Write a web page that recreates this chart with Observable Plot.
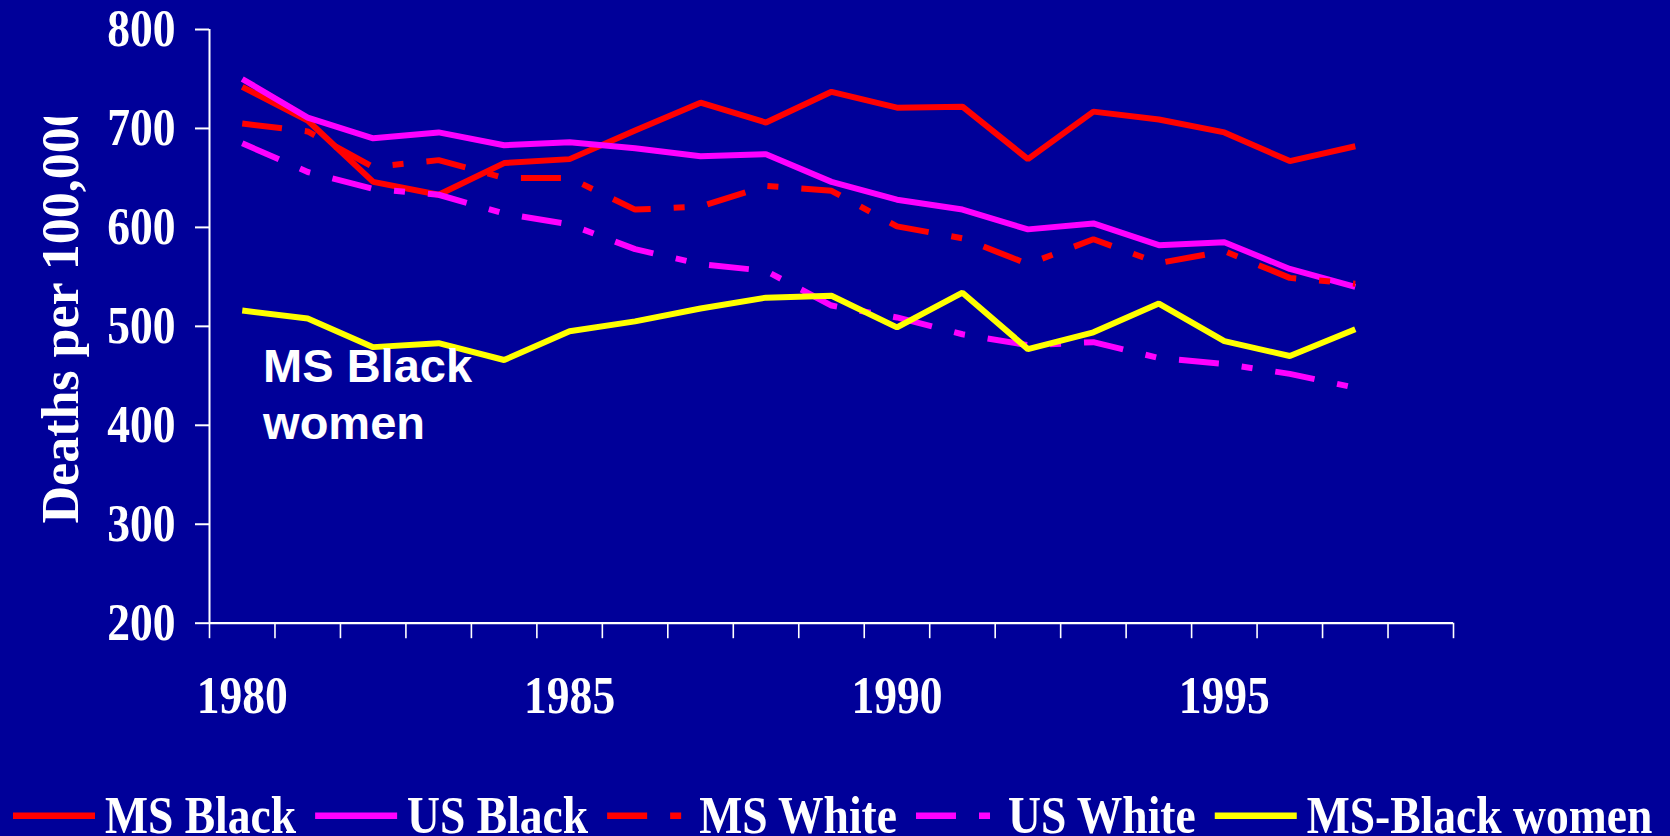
<!DOCTYPE html>
<html>
<head>
<meta charset="utf-8">
<script src="https://cdn.jsdelivr.net/npm/d3@7"></script>
<script src="https://cdn.jsdelivr.net/npm/@observablehq/plot@0.6"></script>
<style>
  html, body { margin: 0; padding: 0; background: #000099; }
  #chart { position: relative; width: 1670px; height: 836px; overflow: hidden; background: #000099; }
</style>
</head>
<body>
<div id="chart"></div>
<script>
// Death rates per 100,000, 1980-1997
const years = d3.range(1980, 1998);
const msBlack      = [742, 708, 646, 633, 665, 669, 698, 726, 706, 737, 721, 722, 669, 717, 709, 696, 667, 682];
const usBlack      = [750, 711, 690, 696, 683, 686, 680, 672, 674, 646, 628, 618, 598, 604, 582, 585, 558, 540];
const msWhite      = [705, 697, 661, 668, 650, 650, 618, 621, 642, 637, 601, 589, 563, 588, 564, 576, 549, 543];
const usWhite      = [685, 656, 639, 633, 614, 603, 578, 563, 556, 521, 509, 492, 481, 484, 468, 462, 452, 438];
const msBlackWomen = [516, 508, 479, 483, 466, 495, 505, 518, 529, 531, 499, 534, 477, 494, 523, 485, 470, 497];

const seriesNames = ["MS Black", "US Black", "MS White", "US White", "MS-Black women"];
const seriesValues = [msBlack, usBlack, msWhite, usWhite, msBlackWomen];
const seriesColors = ["#ff0000", "#ff00ff", "#ff0000", "#ff00ff", "#ffff00"];
const seriesDashes = [null, null, "40,23,11,23", "40,23,11,23", null];

const yTicks = [200, 300, 400, 500, 600, 700, 800];
const yearLabels = [1980, 1985, 1990, 1995];
const yearBounds = d3.range(1979.5, 1999, 1);
const yTitle = "Deaths per 100,000";
const note = "MS Black\nwomen";

const rows = seriesNames.flatMap((name, k) =>
  seriesValues[k].map((v, i) => ({series: name, year: years[i], value: v})));

const serif = "'Times New Roman', 'Liberation Serif', serif";
const sans = "Arial, 'Liberation Sans', sans-serif";

const W = 1670, H = 760;
const plot = Plot.plot({
  width: W,
  height: H,
  marginTop: 29,
  marginBottom: H - 622.7,
  marginLeft: 209,
  marginRight: 217,
  x: {type: "linear", domain: [1979.5, 1998.5]},
  y: {domain: [200, 800]},
  style: {background: "#000099", color: "white", fontFamily: serif, fontWeight: "bold"},
  marks: [
    Plot.ruleX([1979.5], {stroke: "white", strokeWidth: 2}),
    Plot.ruleY([200], {stroke: "white", strokeWidth: 2.2}),
    Plot.axisY({ticks: yTicks, tickSize: 14, tickPadding: 20, strokeWidth: 2,
      fontSize: 53, fontWeight: "bold", fontFamily: serif, fill: "white", label: null}),
    Plot.axisX({ticks: yearBounds, tickSize: 15.5, strokeWidth: 1.6, tickFormat: () => "", label: null}),
    Plot.axisX({ticks: yearLabels, tickSize: 0, tickPadding: 51.7, tickFormat: d => String(d),
      fontSize: 53, fontWeight: "bold", fontFamily: serif, fill: "white", label: null}),
    ...seriesNames.map((name, k) => Plot.line(rows.filter(d => d.series === name), {
      x: "year", y: "value",
      stroke: seriesColors[k], strokeWidth: 6,
      strokeDasharray: seriesDashes[k] ?? undefined,
      strokeLinecap: "butt", strokeLinejoin: "miter"
    })),
    Plot.text([note], {
      frameAnchor: "top-left", dx: 53.6, dy: 409,
      textAnchor: "start", lineAnchor: "bottom", lineHeight: 1.198,
      fontSize: 47, fontWeight: "bold", fontFamily: sans, fill: "white"
    }),
    Plot.text([yTitle], {
      frameAnchor: "bottom-left", dx: -132, dy: -99.7, rotate: -90,
      textAnchor: "start", lineAnchor: "bottom",
      fontSize: 52, fontWeight: "bold", fontFamily: serif, fill: "white"
    })
  ]
});

const chart = document.getElementById("chart");
chart.appendChild(plot);

// Narrow the serif tick labels horizontally about their anchor points
const svg = d3.select(plot);
svg.selectAll('[aria-label$="tick label"] text').each(function () {
  const t = this.getAttribute("transform") || "";
  const ax = parseFloat(this.getAttribute("x")) || 0;
  this.setAttribute("transform", `${t} translate(${ax},0) scale(0.86,1) translate(${-ax},0)`);
});

// Clip the rotated axis title at its top (wrapper group keeps the clip in frame coordinates)
const clipId = "ytitle-clip";
svg.append("defs").append("clipPath").attr("id", clipId)
  .attr("clipPathUnits", "userSpaceOnUse")
  .append("rect").attr("x", 0).attr("y", 117).attr("width", 200).attr("height", H - 117);
const titleText = Array.from(plot.querySelectorAll("text")).find(t => t.textContent === yTitle);
if (titleText) {
  const titleG = titleText.parentNode;
  const wrap = document.createElementNS("http://www.w3.org/2000/svg", "g");
  wrap.setAttribute("clip-path", `url(#${clipId})`);
  titleG.parentNode.insertBefore(wrap, titleG);
  wrap.appendChild(titleG);
}

// Legend row below the chart
const legend = d3.create("svg")
  .attr("width", W).attr("height", 836 - H)
  .style("position", "absolute").style("left", "0px").style("top", `${H}px`)
  .style("background", "#000099");
chart.appendChild(legend.node());
let lx = 13;
seriesNames.forEach((name, k) => {
  legend.append("line")
    .attr("x1", lx).attr("x2", lx + 82).attr("y1", 55.7).attr("y2", 55.7)
    .attr("stroke", seriesColors[k]).attr("stroke-width", 6.5)
    .attr("stroke-dasharray", seriesDashes[k]);
  const tx = lx + 92;
  const t = legend.append("text")
    .attr("transform", `translate(${tx},73) scale(0.86,1)`)
    .attr("fill", "white").attr("font-family", serif).attr("font-weight", "bold")
    .attr("font-size", 53).text(name);
  lx = tx + t.node().getComputedTextLength() * 0.86 + 19;
});
</script>
</body>
</html>
